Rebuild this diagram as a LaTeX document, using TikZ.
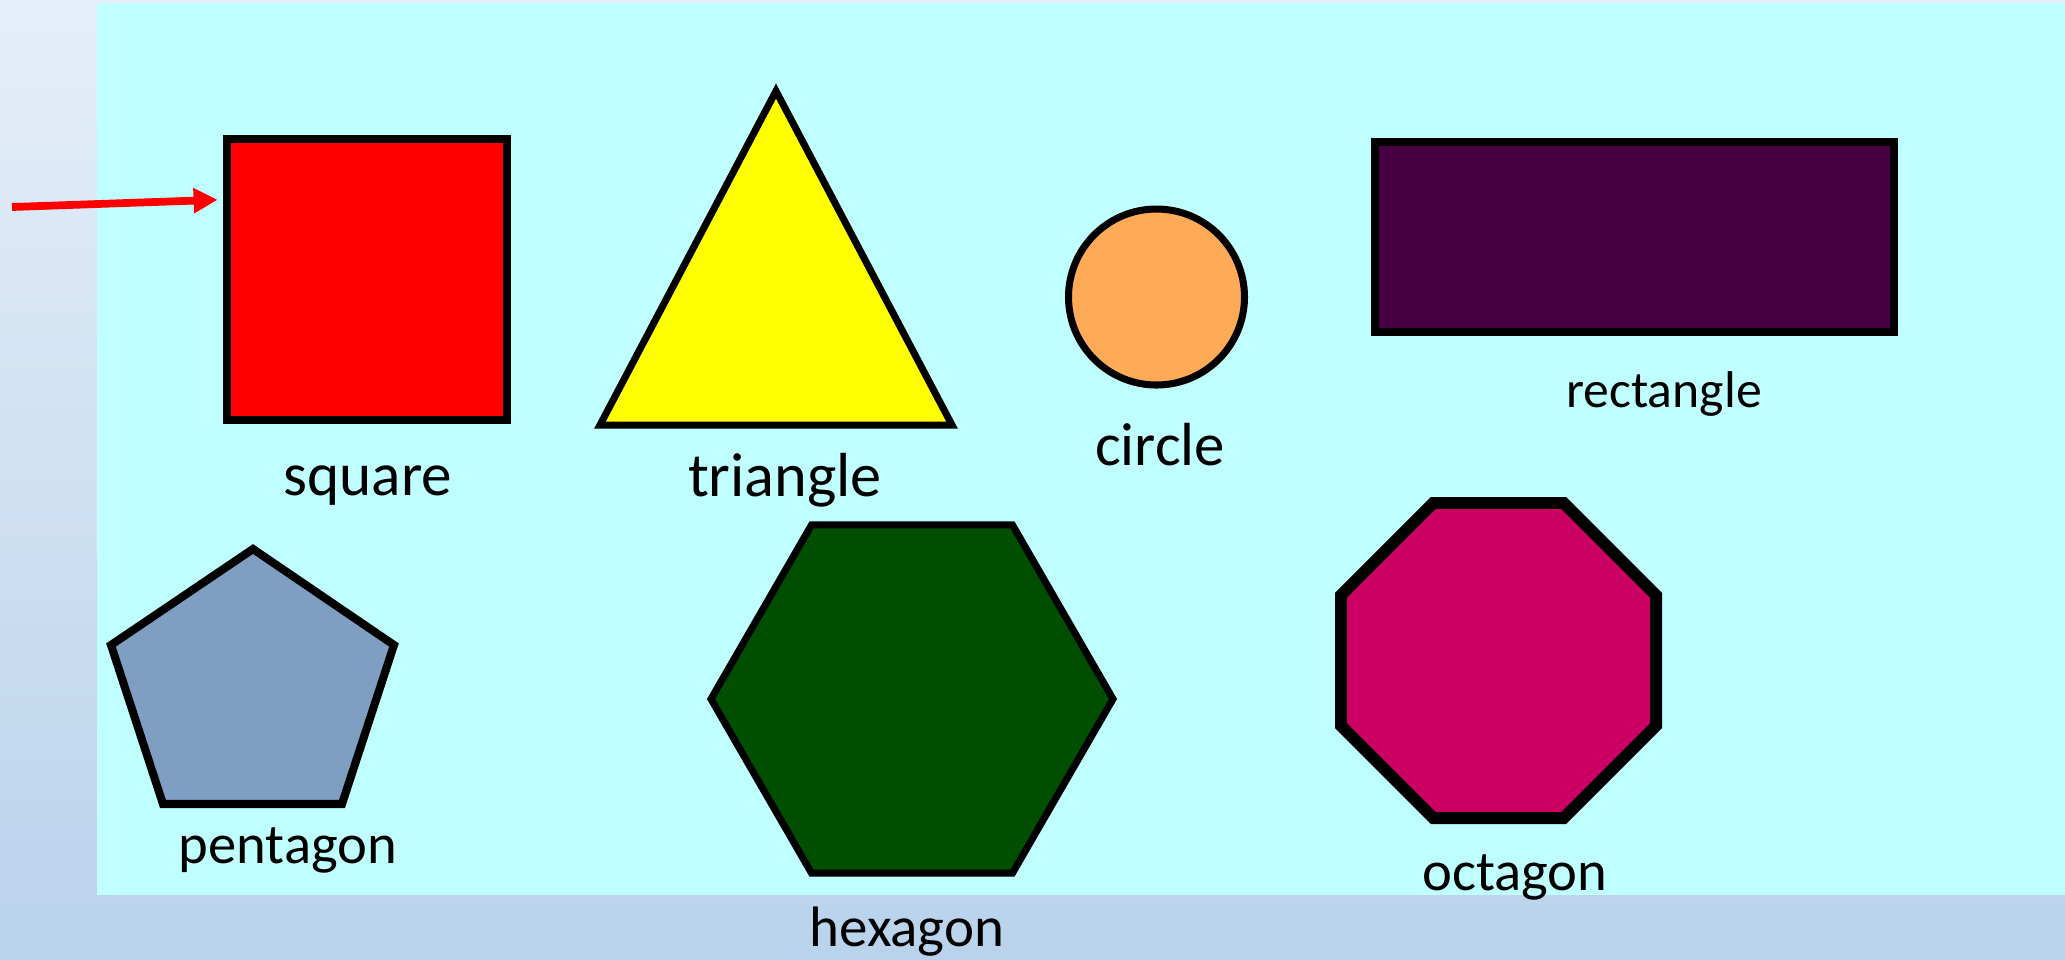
\documentclass[tikz,border=0pt]{standalone}
\usepackage{fontspec}
\setmainfont{Carlito}
\usetikzlibrary{arrows.meta,positioning}
\definecolor{bgtop}{HTML}{E5EEF8}
\definecolor{bgbot}{HTML}{B9D3EC}
\definecolor{panel}{HTML}{C0FFFF}
\definecolor{sqfill}{HTML}{FF0000}
\definecolor{trifill}{HTML}{FFFF00}
\definecolor{circfill}{HTML}{FFAA57}
\definecolor{rectfill}{HTML}{470042}
\definecolor{pentfill}{HTML}{7E9EC2}
\definecolor{hexfill}{HTML}{004F00}
\definecolor{octfill}{HTML}{CB0062}
\tikzset{
  shp/.style={draw=black, line width=#1, line join=miter},
  shp/.default=2.1pt,
  lbl/.style={anchor=base, inner sep=0pt, text=black, font=\fontsize{#1}{#1}\selectfont},
  arr/.style={-{Triangle[length=2.4mm, width=2.4mm]}, line width=2.2pt, color=red},
}

\begin{document}
\begin{tikzpicture}[x=0.01cm, y=-0.01cm]
    \useasboundingbox (0,0) rectangle (2065,959);
    % backdrop
    \shade[top color=bgtop, bottom color=bgbot] (0,0) rectangle (2065,959);
    \fill[panel] (97,3) rectangle (2065,895);
    % top row
    \node[shp=2.3pt, fill=sqfill, minimum width=2.8cm, minimum height=2.81cm, inner sep=0pt] (sq) at (367,279.5) {};
    \draw[shp=2pt, fill=trifill] (776,91) -- (952,425) -- (600,425) -- cycle;
    \draw[shp=2pt, fill=circfill] (1156.5,297) circle[radius=88];
    \draw[shp=2.3pt, fill=rectfill] (1375,142) rectangle (1894,332);
    % bottom row
    \draw[shp=2.3pt, fill=pentfill] (253,549) -- (394,645) -- (342,804) -- (163,804) -- (111,645) -- cycle;
    \draw[shp=2pt, fill=hexfill, shift={(912,699)}] (0:201) \foreach \a in {60,120,...,300} {-- (\a:201)} -- cycle;
    \draw[shp=3.4pt, fill=octfill, shift={(1498.5,660.5)}] (22.5:170.5) \foreach \a in {67.5,112.5,...,337.5} {-- (\a:170.5)} -- cycle;
    % labels
    \node[lbl=17.4] (sqlbl) at (368,495) {square};
    \node[lbl=17.7] (trilbl) at (785,496) {triangle};
    \node[lbl=17.3] (circlbl) at (1160,465) {circle};
    \node[lbl=14.7] (rectlbl) at (1664,407) {rectangle};
    \node[lbl=16.1] (pentlbl) at (288,863) {pentagon};
    \node[lbl=16.2] (hexlbl) at (907,946) {hexagon};
    \node[lbl=16.1] (octlbl) at (1515,890) {octagon};
    % pointer
    \coordinate (tail) at (12,207);
    \draw[arr, shorten >=1.5pt] (tail) -- (sq.151);
\end{tikzpicture}
\end{document}
